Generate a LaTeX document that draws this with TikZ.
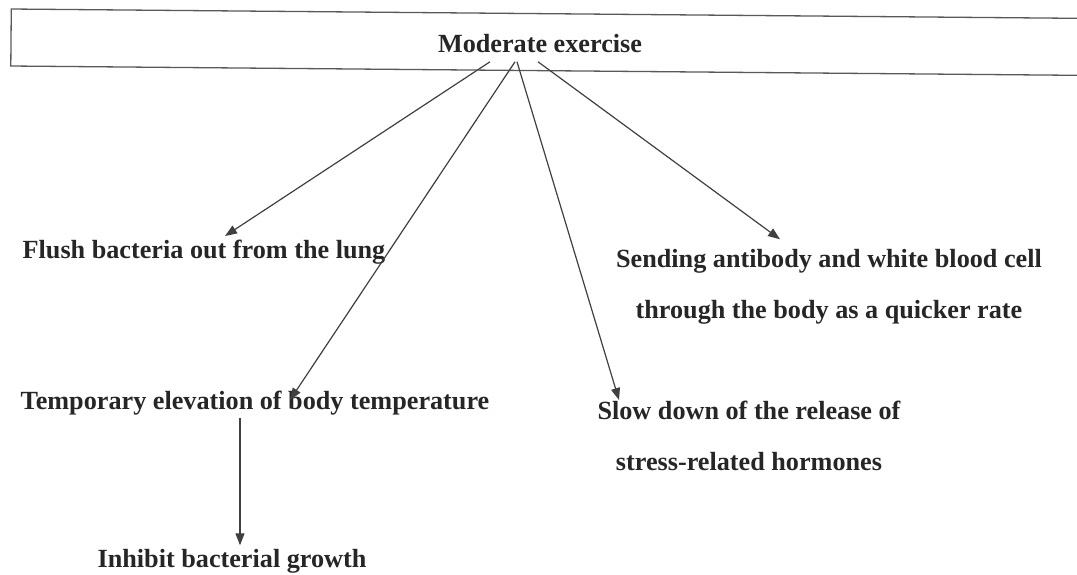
\documentclass[tikz,border=0pt]{standalone}
\usepackage{fontspec}
\setmainfont{Liberation Serif}
\usetikzlibrary{arrows.meta}

\begin{document}
\begin{tikzpicture}[x=1pt,y=-1pt,
  label/.style={font=\fontsize{26.2}{51}\selectfont\bfseries,text=black!85,anchor=base,align=center},
  link/.style={draw=black!75,line width=1.2pt,-{Triangle[length=12pt,width=9pt]}}]
\useasboundingbox (0,0) rectangle (1077,575);
\node[draw=black!65,line width=1.3pt,rotate=-0.5,minimum width=1120pt,minimum height=57pt] (frame) at (571,42.4) {};
\node[label] (exercise) at (540,53) {Moderate exercise};
\node[label] (flush) at (204,258) {Flush bacteria out from the lung};
\node[label] (sending) at (829,318) {Sending antibody and white blood cell\\through the body as a quicker rate};
\node[label] (temp) at (255,409) {Temporary elevation of body temperature};
\node[label] (slow) at (749,470) {Slow down of the release of\\stress-related hormones};
\node[label] (inhibit) at (232,567) {Inhibit bacterial growth};
\draw[link] ([xshift=-50pt,yshift=-5pt]exercise.south) -- ([xshift=21pt]flush.north);
\draw[link] ([xshift=-25pt,yshift=-5pt]exercise.south) -- ([xshift=35pt,yshift=-13pt]temp.north);
\draw[link] ([xshift=-23pt,yshift=-5pt]exercise.south) -- ([xshift=-130pt,yshift=-3pt]slow.north);
\draw[link] ([xshift=-2pt,yshift=-5pt]exercise.south) -- ([xshift=-49pt,yshift=6pt]sending.north);
\draw[link] ([xshift=-15pt]temp.south) -- ([xshift=8pt]inhibit.north);
\end{tikzpicture}
\end{document}
